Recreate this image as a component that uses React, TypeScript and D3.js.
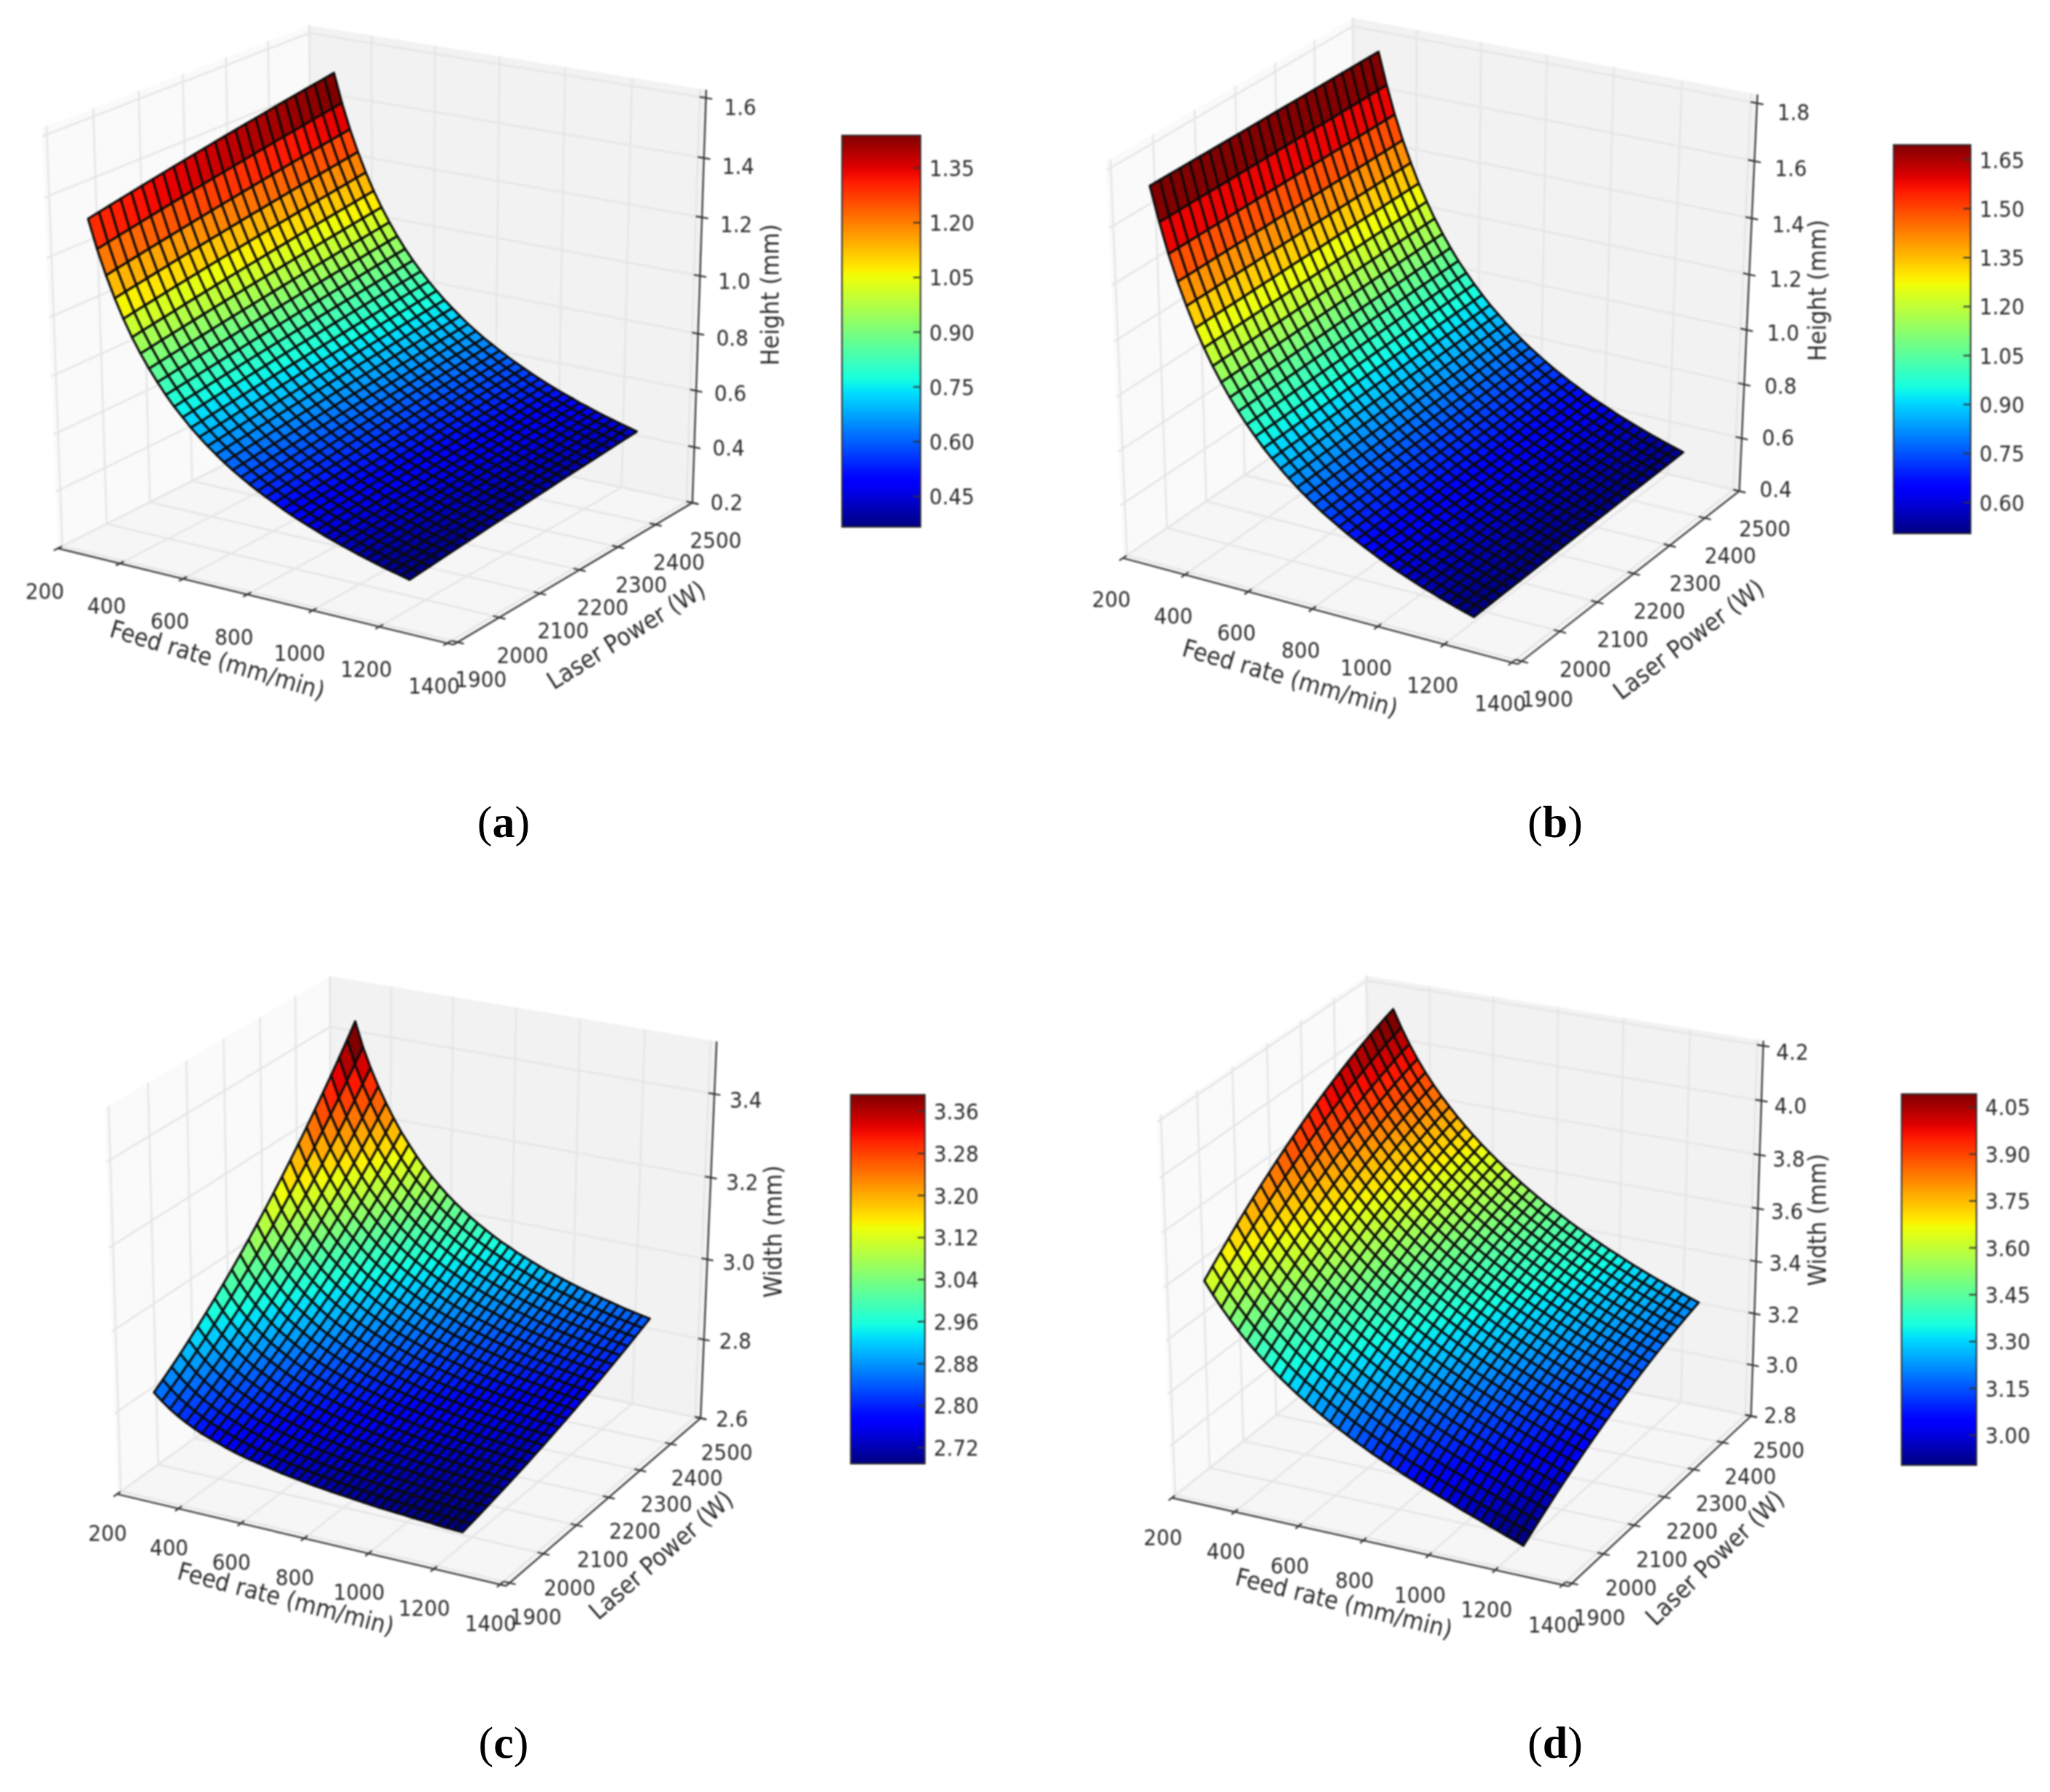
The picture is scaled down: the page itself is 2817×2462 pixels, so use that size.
import React from "react";
import * as d3 from "d3";

// Surface values: z along the low-power edge and the
// high-power edge of each surface, plus the weight of each power row between them.
const feedRates = d3.range(39).map(i => 305 + i * 25.25);
const laserPowers = d3.range(25).map(j => 1910 + j * 23.75);

const weightsHeight = [0,.048,.095,.141,.187,.232,.277,.321,.365,.408,.450,.493,.534,.575,.616,.656,.696,.736,.775,.813,.851,.889,.926,.963,1];
const weightsC = [0,.0273,.0558,.0856,.1167,.1489,.1825,.2173,.2533,.2906,.3292,.3689,.41,.4523,.4958,.5406,.5867,.6339,.6825,.7323,.7833,.8356,.8892,.9439,1];
const weightsD = [0,.0609,.12,.1775,.2334,.2875,.34,.3909,.44,.4875,.5334,.5775,.62,.6609,.7,.7375,.7734,.8075,.84,.8709,.9,.9275,.9534,.9775,1];

const heightALow = [1.339,1.244,1.162,1.091,1.028,.972,.923,.878,.838,.801,.767,.737,.708,.682,.658,.636,.615,.595,.577,.560,.544,.529,.515,.501,.488,.476,.465,.454,.443,.433,.424,.415,.406,.398,.390,.382,.375,.368,.361];
const heightAHigh = [1.492,1.392,1.305,1.230,1.163,1.103,1.050,1.002,.958,.918,.882,.849,.818,.790,.763,.739,.716,.694,.674,.655,.638,.621,.605,.590,.576,.562,.549,.537,.525,.514,.504,.493,.484,.474,.465,.457,.449,.441,.433];
const heightBLow = [1.755,1.636,1.532,1.442,1.363,1.292,1.229,1.171,1.120,1.073,1.030,.990,.954,.920,.889,.860,.833,.807,.784,.761,.740,.721,.702,.684,.668,.652,.637,.622,.608,.595,.583,.571,.559,.549,.538,.528,.518,.509,.500];
const heightBHigh = [1.748,1.634,1.534,1.447,1.370,1.301,1.240,1.184,1.134,1.088,1.046,1.008,.972,.939,.908,.880,.853,.828,.804,.782,.762,.742,.723,.706,.689,.674,.658,.644,.631,.618,.605,.593,.582,.571,.560,.550,.540,.531,.522];
const widthCLow = [2.857,2.840,2.825,2.812,2.801,2.791,2.782,2.775,2.768,2.761,2.755,2.750,2.745,2.741,2.737,2.733,2.729,2.726,2.723,2.720,2.717,2.715,2.712,2.710,2.708,2.706,2.704,2.702,2.700,2.699,2.697,2.696,2.694,2.693,2.692,2.690,2.689,2.688,2.687];
const widthCHigh = [3.437,3.378,3.330,3.288,3.250,3.216,3.185,3.158,3.132,3.109,3.088,3.069,3.051,3.035,3.020,3.006,2.993,2.981,2.970,2.959,2.950,2.940,2.932,2.924,2.916,2.908,2.902,2.895,2.889,2.883,2.877,2.872,2.867,2.862,2.857,2.852,2.848,2.844,2.840];
const widthDLow = [3.630,3.585,3.543,3.505,3.470,3.437,3.407,3.378,3.351,3.325,3.301,3.278,3.257,3.236,3.216,3.197,3.179,3.162,3.145,3.129,3.113,3.098,3.084,3.070,3.056,3.043,3.030,3.018,3.006,2.994,2.981,2.969,2.958,2.946,2.934,2.923,2.911,2.900,2.888];
const widthDHigh = [4.130,4.066,4.009,3.958,3.912,3.871,3.833,3.798,3.765,3.734,3.705,3.677,3.651,3.626,3.602,3.579,3.557,3.536,3.516,3.496,3.478,3.460,3.442,3.425,3.409,3.393,3.378,3.363,3.349,3.335,3.321,3.308,3.295,3.283,3.271,3.259,3.247,3.236,3.225];

const feedTicks = [200,400,600,800,1000,1200,1400];
const powerTicks = [1900,2000,2100,2200,2300,2400,2500];
const zTicksA = ["0.2","0.4","0.6","0.8","1.0","1.2","1.4","1.6"];
const zTicksB = ["0.4","0.6","0.8","1.0","1.2","1.4","1.6","1.8"];
const zTicksC = ["2.6","2.8","3.0","3.2","3.4"];
const zTicksD = ["2.8","3.0","3.2","3.4","3.6","3.8","4.0","4.2"];
const barTicksA = ["0.45","0.60","0.75","0.90","1.05","1.20","1.35"];
const barTicksB = ["0.60","0.75","0.90","1.05","1.20","1.35","1.50","1.65"];
const barTicksC = ["2.72","2.80","2.88","2.96","3.04","3.12","3.20","3.28","3.36"];
const barTicksD = ["3.00","3.15","3.30","3.45","3.60","3.75","3.90","4.05"];

type Pt = [number, number];
type Layout = {
  tag: string; zLabel: string; low: number[]; high: number[]; weights: number[];
  zTicks: string[]; barTicks: string[]; zLim: [number, number];
  // pixel anchors of the box corners: left-bottom, front-bottom, right-bottom, left-top, right-top, back-top
  corners: Pt[];
  bar: [number, number, number, number];
  feedOff: Pt; powerOff: Pt; zOff: [number, number, number];
  feedLabel: [number, number, number]; powerLabel: [number, number, number]; zLabelPos: Pt;
  tagPos: Pt;
};

const panels: Layout[] = [
  { tag: "a", zLabel: "Height (mm)", low: heightALow, high: heightAHigh, weights: weightsHeight, zTicks: zTicksA, barTicks: barTicksA, zLim: [0.2, 1.627],
    corners: [[80,754],[622,886],[952,690],[58,175],[971,124],[424,35]], bar: [1157,186,1265,724],
    feedOff: [-18,58], powerOff: [32,51], zOff: [47,-1,13],
    feedLabel: [299,906,16.5], powerLabel: [860,872,-32], zLabelPos: [1058,405], tagPos: [692,1150] },
  { tag: "b", zLabel: "Height (mm)", low: heightBLow, high: heightBHigh, weights: weightsHeight, zTicks: zTicksB, barTicks: barTicksB, zLim: [0.4, 1.83],
    corners: [[1544,768],[2084,913],[2391,673],[1521,220],[2416,131],[1857,25]], bar: [2602,199,2708,733],
    feedOff: [-16,56], powerOff: [35,51], zOff: [50,-3,12],
    feedLabel: [1773,931,16], powerLabel: [2320,878,-37], zLabelPos: [2497,399], tagPos: [2137,1150] },
  { tag: "c", zLabel: "Width (mm)", low: widthCLow, high: widthCHigh, weights: weightsC, zTicks: zTicksC, barTicks: barTicksC, zLim: [2.6, 3.524],
    corners: [[161,2053],[695,2179],[963,1948],[144,1522],[985,1431],[453,1341]], bar: [1169,1504,1271,2011],
    feedOff: [-13,53], powerOff: [36,46], zOff: [43,0,9],
    feedLabel: [393,2196,14.7], powerLabel: [908,2136,-41], zLabelPos: [1062,1692], tagPos: [692,2415] },
  { tag: "d", zLabel: "Width (mm)", low: widthDLow, high: widthDHigh, weights: weightsD, zTicks: zTicksD, barTicks: barTicksD, zLim: [2.8, 4.218],
    corners: [[1611,2059],[2154,2180],[2407,1944],[1591,1533],[2424,1431],[1876,1341]], bar: [2613,1503,2716,2013],
    feedOff: [-12,54], powerOff: [38,46], zOff: [40,-2,8],
    feedLabel: [1847,2202,14], powerLabel: [2356,2140,-44], zLabelPos: [2497,1676], tagPos: [2137,2415] },
];

// Box coordinates (0..1) that each pixel anchor belongs to.
const cornerBox: [number, number, number][] = [[0,0,0],[1,0,0],[1,1,0],[0,0,1],[1,1,1],[0,1,1]];

function solve(A: number[][], b: number[]): number[] {
  const n = b.length;
  const M = A.map((r, i) => [...r, b[i]]);
  for (let c = 0; c < n; c++) {
    let p = c;
    for (let r = c + 1; r < n; r++) if (Math.abs(M[r][c]) > Math.abs(M[p][c])) p = r;
    [M[c], M[p]] = [M[p], M[c]];
    for (let r = 0; r < n; r++) {
      if (r === c) continue;
      const f = M[r][c] / M[c][c];
      for (let k = c; k <= n; k++) M[r][k] -= f * M[c][k];
    }
  }
  return M.map((r, i) => r[n] / r[i]);
}

// Camera through the pixel anchors (least squares), so every mark is projected from box coordinates.
function makeCamera(corners: Pt[]) {
  const ox = corners[0][0], oy = corners[0][1], s = 1000;
  const rows: number[][] = [], rhs: number[] = [];
  corners.forEach(([px, py], i) => {
    const [X, Y, Z] = cornerBox[i];
    const u = (px - ox) / s, v = (py - oy) / s;
    rows.push([X, Y, Z, 1, 0, 0, 0, 0, -u * X, -u * Y, -u * Z]); rhs.push(u);
    rows.push([0, 0, 0, 0, X, Y, Z, 1, -v * X, -v * Y, -v * Z]); rhs.push(v);
  });
  const ata = d3.range(11).map(a => d3.range(11).map(b => d3.sum(rows, r => r[a] * r[b]) + (a === b ? 1e-10 : 0)));
  const atb = d3.range(11).map(a => d3.sum(rows, (r, i) => r[a] * rhs[i]));
  const m = solve(ata, atb);
  return (X: number, Y: number, Z: number): Pt => {
    const w = m[8] * X + m[9] * Y + m[10] * Z + 1;
    return [
      ox + s * (m[0] * X + m[1] * Y + m[2] * Z + m[3]) / w,
      oy + s * (m[4] * X + m[5] * Y + m[6] * Z + m[7]) / w,
    ];
  };
}

const jetR = d3.scaleLinear([0, .35, .66, .89, 1], [0, 0, 255, 255, 128]).clamp(true);
const jetG = d3.scaleLinear([0, .125, .375, .64, .91, 1], [0, 0, 255, 255, 0, 0]).clamp(true);
const jetB = d3.scaleLinear([0, .11, .34, .65, 1], [128, 255, 255, 0, 0]).clamp(true);
const jet = (t: number) => `rgb(${Math.round(jetR(t))},${Math.round(jetG(t))},${Math.round(jetB(t))})`;

const FONT = "'DejaVu Sans Condensed','DejaVu Sans',sans-serif";
const TXT = "#2b2b2b";
const path = (pts: Pt[], close = false) => "M" + pts.map(p => `${p[0].toFixed(1)},${p[1].toFixed(1)}`).join("L") + (close ? "Z" : "");

function Panel({ p, idx }: { p: Layout; idx: number }) {
  const cam = makeCamera(p.corners);
  const sx = d3.scaleLinear([200, 1418], [0, 1]);
  const sy = d3.scaleLinear([1890, 2500], [0, 1]);
  const sz = d3.scaleLinear(p.zLim, [0, 1]);
  const zAt = (i: number, j: number) => p.low[i] + (p.high[i] - p.low[i]) * p.weights[j];
  const pt = (i: number, j: number) => cam(sx(feedRates[i]), sy(laserPowers[j]), sz(zAt(i, j)));

  const cells: { d: string; v: number }[] = [];
  for (let i = 0; i < feedRates.length - 1; i++) {
    for (let j = laserPowers.length - 2; j >= 0; j--) {
      const v = (zAt(i, j) + zAt(i + 1, j) + zAt(i, j + 1) + zAt(i + 1, j + 1)) / 4;
      cells.push({ d: path([pt(i, j), pt(i + 1, j), pt(i + 1, j + 1), pt(i, j + 1)], true), v });
    }
  }
  const [vMin, vMax] = d3.extent(cells, c => c.v) as [number, number];
  const norm = d3.scaleLinear([vMin, vMax], [0, 1]);
  const [bx0, by0, bx1, by1] = p.bar;
  const barY = d3.scaleLinear([vMin, vMax], [by1, by0]);
  const gid = `jet-${idx}`;
  const zLabelDy = d3.scaleLinear([0, 1], [p.zOff[1], p.zOff[2]]);

  const zVals = p.zTicks.map(Number);
  return (
    <g>
      <g style={{ filter: "blur(0.8px)" }}>
        <path d={path([cam(0,0,0), cam(0,1,0), cam(0,1,1), cam(0,0,1)], true)} fill="#fafafa" />
        <path d={path([cam(0,1,0), cam(1,1,0), cam(1,1,1), cam(0,1,1)], true)} fill="#f2f2f2" />
        <path d={path([cam(0,0,0), cam(1,0,0), cam(1,1,0), cam(0,1,0)], true)} fill="#f6f6f6" />
        <g stroke="#e6e6e6" strokeWidth={2.6} fill="none">
          {feedTicks.map(t => <path key={"fx" + t} d={path([cam(sx(t),0,0), cam(sx(t),1,0), cam(sx(t),1,1)])} />)}
          {powerTicks.map(t => <path key={"fy" + t} d={path([cam(1,sy(t),0), cam(0,sy(t),0), cam(0,sy(t),1)])} />)}
          {zVals.map(t => <path key={"fz" + t} d={path([cam(0,0,sz(t)), cam(0,1,sz(t)), cam(1,1,sz(t))])} />)}
        </g>
        <g stroke="#333" strokeWidth={2.2} fill="none">
          <path d={path([cam(0,0,0), cam(1,0,0)])} />
          <path d={path([cam(1,0,0), cam(1,1,0)])} />
          <path d={path([cam(1,1,0), cam(1,1,1)])} />
          {feedTicks.map(t => <path key={"tx" + t} d={path([cam(sx(t),-.015,0), cam(sx(t),.015,0)])} />)}
          {powerTicks.map(t => <path key={"ty" + t} d={path([cam(1-.015,sy(t),0), cam(1+.015,sy(t),0)])} />)}
          {zVals.map(t => <path key={"tz" + t} d={path([cam(1-.015,1,sz(t)), cam(1+.015,1,sz(t))])} />)}
        </g>
        <g stroke="#0a0a0a" strokeWidth={3} strokeLinejoin="round">
          {cells.map((c, i) => <path key={i} d={c.d} fill={jet(norm(c.v))} />)}
        </g>
        <g fontFamily={FONT} fontSize={31} fill={TXT} textAnchor="middle">
          {feedTicks.map(t => { const q = cam(sx(t),0,0); return <text key={"lx" + t} x={q[0] + p.feedOff[0]} y={q[1] + p.feedOff[1]} dy=".36em">{t}</text>; })}
          {powerTicks.map(t => { const q = cam(1,sy(t),0); return <text key={"ly" + t} x={q[0] + p.powerOff[0]} y={q[1] + p.powerOff[1]} dy=".36em">{t}</text>; })}
          {p.zTicks.map(t => { const q = cam(1,1,sz(+t)); return <text key={"lz" + t} x={q[0] + p.zOff[0]} y={q[1] + zLabelDy(sz(+t))} dy=".36em">{t}</text>; })}
        </g>
        <g fontFamily={FONT} fontSize={34} fill={TXT} textAnchor="middle">
          <text transform={`translate(${p.feedLabel[0]},${p.feedLabel[1]}) rotate(${p.feedLabel[2]})`} dy=".36em">Feed rate (mm/min)</text>
          <text transform={`translate(${p.powerLabel[0]},${p.powerLabel[1]}) rotate(${p.powerLabel[2]})`} dy=".36em">Laser Power (W)</text>
          <text transform={`translate(${p.zLabelPos[0]},${p.zLabelPos[1]}) rotate(-90)`} dy=".36em">{p.zLabel}</text>
        </g>
        <defs>
          <linearGradient id={gid} x1="0" x2="0" y1="1" y2="0">
            {d3.range(0, 1.0001, 0.02).map(t => <stop key={t} offset={t} stopColor={jet(t)} />)}
          </linearGradient>
        </defs>
        <rect x={bx0} y={by0} width={bx1 - bx0} height={by1 - by0} fill={`url(#${gid})`} stroke="#333" strokeWidth={2} />
        <g stroke="#333" strokeWidth={2}>
          {p.barTicks.map(t => <line key={t} x1={bx1 - 10} x2={bx1} y1={barY(+t)} y2={barY(+t)} />)}
        </g>
        <g fontFamily={FONT} fontSize={31} fill={TXT}>
          {p.barTicks.map(t => <text key={t} x={bx1 + 12} y={barY(+t)} dy=".36em">{t}</text>)}
        </g>
      </g>
      <text x={p.tagPos[0]} y={p.tagPos[1]} textAnchor="middle" fontFamily="'Liberation Serif',serif" fontSize={62} fill="#000">
        (<tspan fontWeight="bold">{p.tag}</tspan>)
      </text>
    </g>
  );
}

export default function App() {
  return (
    <svg width={2817} height={2462} viewBox="0 0 2817 2462" style={{ position: "absolute", left: 0, top: 0, background: "#fff" }}>
      {panels.map((p, i) => <Panel key={p.tag} p={p} idx={i} />)}
    </svg>
  );
}
